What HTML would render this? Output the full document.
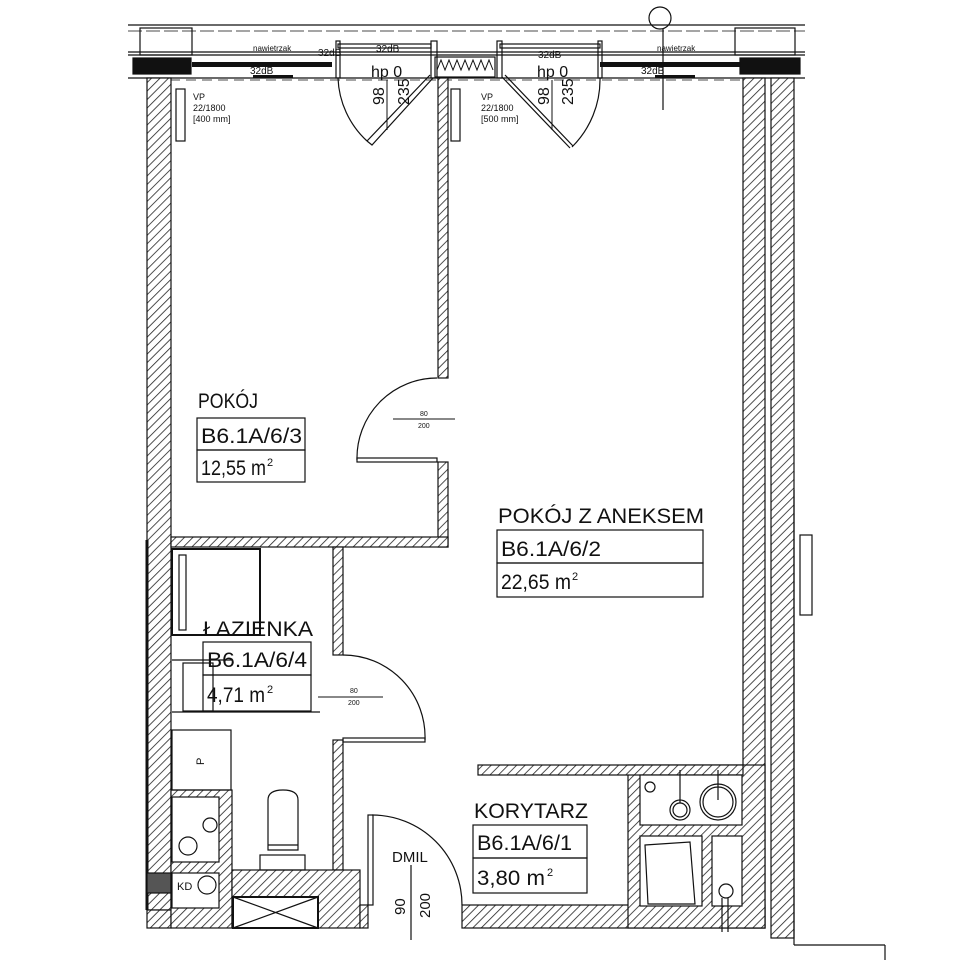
<!DOCTYPE html>
<html><head><meta charset="utf-8"><style>
html,body{margin:0;padding:0;background:#fff}
svg{display:block}
text{font-family:"Liberation Sans Narrow","Liberation Sans",sans-serif;fill:#111}
</style></head><body>
<svg width="960" height="960" viewBox="0 0 960 960" xmlns="http://www.w3.org/2000/svg">
<defs>
<pattern id="h" width="6" height="6" patternUnits="userSpaceOnUse" patternTransform="rotate(45)">
<rect width="6" height="6" fill="#fff"/><line x1="0" y1="0" x2="0" y2="6" stroke="#222" stroke-width="1.6"/>
</pattern>
</defs>
<g stroke="#111" fill="none" stroke-width="1.2">
<line x1="128" y1="25" x2="805" y2="25"/>
<line x1="128" y1="31" x2="805" y2="31" stroke-dasharray="14 4" stroke-width="0.8"/>
<line x1="128" y1="52" x2="805" y2="52"/>
<line x1="128" y1="55" x2="805" y2="55"/>
<line x1="128" y1="78" x2="805" y2="78"/>
<line x1="170" y1="80" x2="742" y2="80" stroke-dasharray="10 6" stroke-width="0.8"/>
<rect x="140" y="28" width="52" height="27"/>
<rect x="735" y="28" width="60" height="27"/>
<rect x="133" y="58" width="58" height="16" fill="#111"/>
<rect x="740" y="58" width="60" height="16" fill="#111"/>
<rect x="192" y="62" width="140" height="5" fill="#111" stroke="none"/>
<rect x="600" y="62" width="140" height="5" fill="#111" stroke="none"/>
<rect x="253" y="75" width="40" height="3" fill="#111" stroke="none"/>
<rect x="655" y="75" width="40" height="3" fill="#111" stroke="none"/>
<rect x="338" y="44" width="93" height="4"/>
<rect x="500" y="44" width="100" height="4"/>
<rect x="435" y="57" width="60" height="20"/>
<path d="M437 70 l4 -10 l4 10 l4 -10 l4 10 l4 -10 l4 10 l4 -10 l4 10 l4 -10 l4 10 l4 -10 l4 10 l4 -10 l4 10" stroke-width="1"/>
<rect x="336" y="41" width="4" height="37"/><rect x="431" y="41" width="6" height="37"/>
<rect x="497" y="41" width="5" height="37"/><rect x="598" y="41" width="4" height="37"/>
<circle cx="660" cy="18" r="11"/>
<line x1="663" y1="29" x2="663" y2="110"/>
<rect x="147" y="78" width="24" height="832" fill="url(#h)"/>
<line x1="147" y1="540" x2="147" y2="910" stroke-width="3"/>
<rect x="147" y="873" width="24" height="20" fill="#555"/>
<rect x="147" y="910" width="24" height="18" fill="url(#h)"/>
<rect x="743" y="78" width="22" height="850" fill="url(#h)"/>
<rect x="771" y="78" width="23" height="860" fill="url(#h)"/>
<line x1="794" y1="490" x2="794" y2="945"/>
<line x1="794" y1="945" x2="885" y2="945"/>
<line x1="885" y1="945" x2="885" y2="960"/>
<rect x="800" y="535" width="12" height="80"/>
<rect x="438" y="78" width="10" height="300" fill="url(#h)"/>
<rect x="438" y="462" width="10" height="85" fill="url(#h)"/>
<rect x="171" y="537" width="277" height="10" fill="url(#h)"/>
<rect x="333" y="547" width="10" height="108" fill="url(#h)"/>
<rect x="333" y="740" width="10" height="130" fill="url(#h)"/>
<rect x="171" y="790" width="61" height="138" fill="url(#h)"/>
<rect x="232" y="870" width="128" height="58" fill="url(#h)"/>
<rect x="233" y="897" width="85" height="31" fill="#fff" stroke-width="2"/>
<path d="M233 897 L318 928 M318 897 L233 928"/>
<rect x="360" y="905" width="8" height="23" fill="url(#h)"/>
<rect x="462" y="905" width="303" height="23" fill="url(#h)"/>
<rect x="628" y="765" width="137" height="163" fill="url(#h)"/>
<rect x="478" y="765" width="265" height="10" fill="url(#h)"/>
<rect x="640" y="775" width="102" height="50" fill="#fff"/>
<rect x="640" y="836" width="62" height="70" fill="#fff"/>
<rect x="712" y="836" width="30" height="70" fill="#fff"/>
<circle cx="680" cy="810" r="10"/><circle cx="680" cy="810" r="7"/>
<line x1="680" y1="770" x2="680" y2="803"/>
<circle cx="718" cy="802" r="18"/><circle cx="718" cy="802" r="15"/>
<line x1="718" y1="770" x2="718" y2="800"/>
<circle cx="650" cy="787" r="5"/>
<path d="M645 845 L690 842 L695 904 L648 904 Z"/>
<circle cx="726" cy="891" r="7"/>
<line x1="722" y1="898" x2="722" y2="932"/><line x1="728" y1="898" x2="728" y2="932"/>
<path d="M437 378 A80 80 0 0 0 357 460"/>
<rect x="357" y="458" width="80" height="4"/>
<line x1="393" y1="419" x2="455" y2="419" stroke-width="1"/>
<path d="M343 655 A82 82 0 0 1 425 740"/>
<rect x="343" y="738" width="82" height="4"/>
<line x1="318" y1="697" x2="383" y2="697" stroke-width="1"/>
<path d="M372 815 A90 90 0 0 1 462 905"/>
<rect x="368" y="815" width="5" height="90"/>
<line x1="411" y1="865" x2="411" y2="940"/>
<path d="M367 141 L430 75 M367 141 L372 145 L433 78"/>
<path d="M338 78 A90 90 0 0 0 367 141"/>
<path d="M502 77 L570 148 M505 75 L573 146"/>
<path d="M600 78 A95 95 0 0 1 572 147"/>
<line x1="387" y1="80" x2="387" y2="130" stroke-width="1"/>
<line x1="552" y1="80" x2="552" y2="130" stroke-width="1"/>
<rect x="176" y="89" width="9" height="52"/>
<rect x="451" y="89" width="9" height="52"/>
<rect x="172" y="549" width="88" height="86" stroke-width="2"/>
<rect x="179" y="555" width="7" height="75"/>
<line x1="172" y1="660" x2="232" y2="660"/>
<rect x="183" y="663" width="30" height="48"/>
<line x1="172" y1="712" x2="320" y2="712"/>
<rect x="172" y="730" width="59" height="60"/>
<rect x="172" y="797" width="47" height="65" fill="#fff"/>
<circle cx="188" cy="846" r="9"/><circle cx="210" cy="825" r="7"/>
<rect x="172" y="873" width="47" height="35" fill="#fff"/>
<circle cx="207" cy="885" r="9"/>
<path d="M268 850 L268 800 Q268 790 283 790 Q298 790 298 800 L298 850 Z"/>
<line x1="268" y1="845" x2="298" y2="845"/>
<rect x="260" y="855" width="45" height="15"/>
<rect x="197" y="418" width="108" height="32"/><rect x="197" y="450" width="108" height="32"/>
<rect x="497" y="530" width="206" height="33"/><rect x="497" y="563" width="206" height="34"/>
<rect x="203" y="642" width="108" height="33"/><rect x="203" y="675" width="108" height="36"/>
<rect x="473" y="825" width="114" height="33"/><rect x="473" y="858" width="114" height="35"/>
</g>
<g font-size="21">
<text x="198" y="408" textLength="60" lengthAdjust="spacingAndGlyphs">POKÓJ</text>
<text x="201" y="443" textLength="101" lengthAdjust="spacingAndGlyphs">B6.1A/6/3</text>
<text x="201" y="475" textLength="65" lengthAdjust="spacingAndGlyphs">12,55 m</text><text x="267" y="466" font-size="11">2</text>
<text x="498" y="523" textLength="206" lengthAdjust="spacingAndGlyphs">POKÓJ Z ANEKSEM</text>
<text x="501" y="556" textLength="100" lengthAdjust="spacingAndGlyphs">B6.1A/6/2</text>
<text x="501" y="589" textLength="70" lengthAdjust="spacingAndGlyphs">22,65 m</text><text x="572" y="580" font-size="11">2</text>
<text x="203" y="636" textLength="110" lengthAdjust="spacingAndGlyphs">ŁAZIENKA</text>
<text x="207" y="667" textLength="100" lengthAdjust="spacingAndGlyphs">B6.1A/6/4</text>
<text x="207" y="702" textLength="58" lengthAdjust="spacingAndGlyphs">4,71 m</text><text x="267" y="693" font-size="11">2</text>
<text x="474" y="818" textLength="114" lengthAdjust="spacingAndGlyphs">KORYTARZ</text>
<text x="477" y="850" textLength="95" lengthAdjust="spacingAndGlyphs">B6.1A/6/1</text>
<text x="477" y="885" textLength="68" lengthAdjust="spacingAndGlyphs">3,80 m</text><text x="547" y="876" font-size="11">2</text>
</g>
<g font-size="9">
<text x="193" y="100">VP</text><text x="193" y="111">22/1800</text><text x="193" y="122">[400 mm]</text>
<text x="481" y="100">VP</text><text x="481" y="111">22/1800</text><text x="481" y="122">[500 mm]</text>
<text x="420" y="416" font-size="7">80</text><text x="418" y="428" font-size="7">200</text>
<text x="350" y="693" font-size="7">80</text><text x="348" y="705" font-size="7">200</text>
<text x="253" y="51" font-size="8">nawietrzak</text><text x="657" y="51" font-size="8">nawietrzak</text>
<text x="250" y="74" font-size="10">32dB</text><text x="641" y="74" font-size="10">32dB</text>
<text x="318" y="56" font-size="10">32dB</text><text x="376" y="52" font-size="10">32dB</text><text x="538" y="58" font-size="10">32dB</text>
<text transform="translate(204 765) rotate(-90)" font-size="11">P</text>
<text x="177" y="890" font-size="11">KD</text>
</g>
<g font-size="16">
<text x="371" y="77">hp 0</text><text x="537" y="77">hp 0</text>
<text transform="translate(384 105) rotate(-90)">98</text>
<text transform="translate(409 105) rotate(-90)">235</text>
<text transform="translate(549 105) rotate(-90)">98</text>
<text transform="translate(573 105) rotate(-90)">235</text>
<text x="392" y="862" font-size="15">DMIL</text>
<text transform="translate(405 915) rotate(-90)" font-size="15">90</text>
<text transform="translate(430 918) rotate(-90)" font-size="15">200</text>
</g>
</svg>
</body></html>
